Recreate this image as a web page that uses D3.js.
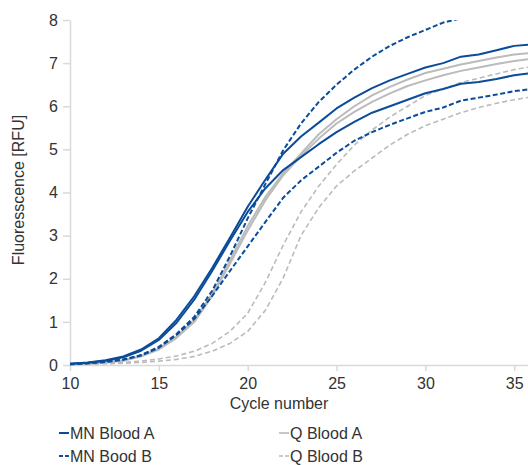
<!DOCTYPE html>
<html>
<head>
<meta charset="utf-8">
<script src="https://cdn.jsdelivr.net/npm/d3@7"></script>
<style>
  body { margin: 0; background: #fff; }
  svg { display: block; font-family: "Liberation Sans", Arial, sans-serif; }
  .axis path, .axis line { stroke: #d9d9d9; stroke-width: 1.5; }
  .axis text { fill: #333; font-size: 16px; }
</style>
</head>
<body>
<svg width="528" height="465"></svg>
<script>
// cycles 10..36
const cycles = [10, 11, 12, 13, 14, 15, 16, 17, 18, 19, 20, 21, 22, 23, 24, 25, 26, 27, 28, 29, 30, 31, 32, 33, 34, 35, 36];

const mnBloodA1 = [0.03, 0.06, 0.11, 0.2, 0.36, 0.62, 1.05, 1.6, 2.25, 2.95, 3.67, 4.3, 4.9, 5.3, 5.62, 5.95, 6.2, 6.42, 6.6, 6.75, 6.9, 7.0, 7.15, 7.2, 7.3, 7.4, 7.43];
const mnBloodA2 = [0.03, 0.05, 0.1, 0.18, 0.33, 0.58, 0.98, 1.52, 2.18, 2.88, 3.55, 4.1, 4.52, 4.82, 5.12, 5.4, 5.64, 5.85, 6.0, 6.15, 6.3, 6.4, 6.52, 6.56, 6.63, 6.72, 6.77];
const mnBoodB1 = [0.02, 0.04, 0.08, 0.13, 0.23, 0.42, 0.72, 1.12, 1.72, 2.52, 3.4, 4.2, 4.98, 5.6, 6.1, 6.5, 6.85, 7.15, 7.4, 7.6, 7.77, 7.94, 8.04, 8.15, 8.25, 8.32, 8.38];
const mnBoodB2 = [0.02, 0.04, 0.07, 0.12, 0.22, 0.4, 0.7, 1.07, 1.6, 2.18, 2.75, 3.32, 3.88, 4.28, 4.6, 4.92, 5.2, 5.4, 5.57, 5.72, 5.87, 5.97, 6.13, 6.2, 6.27, 6.35, 6.4];
const qBloodA1 = [0.02, 0.03, 0.06, 0.11, 0.21, 0.38, 0.66, 1.05, 1.65, 2.42, 3.22, 3.9, 4.45, 4.9, 5.35, 5.7, 6.0, 6.25, 6.45, 6.62, 6.77, 6.87, 6.97, 7.05, 7.13, 7.2, 7.24];
const qBloodA2 = [0.02, 0.03, 0.06, 0.1, 0.2, 0.36, 0.63, 1.0, 1.6, 2.35, 3.12, 3.82, 4.4, 4.85, 5.25, 5.6, 5.87, 6.1, 6.3, 6.47, 6.6, 6.72, 6.82, 6.9, 6.98, 7.05, 7.1];
const qBloodB1 = [0.02, 0.03, 0.04, 0.06, 0.09, 0.14, 0.21, 0.32, 0.5, 0.78, 1.2, 1.92, 2.78, 3.55, 4.15, 4.65, 5.1, 5.45, 5.75, 6.0, 6.25, 6.4, 6.55, 6.65, 6.75, 6.85, 6.92];
const qBloodB2 = [0.01, 0.02, 0.03, 0.04, 0.06, 0.09, 0.13, 0.2, 0.32, 0.5, 0.78, 1.27, 2.02, 3.0, 3.65, 4.15, 4.5, 4.8, 5.1, 5.35, 5.55, 5.7, 5.85, 5.97, 6.07, 6.15, 6.22];

const xTicks = [10, 15, 20, 25, 30, 35];
const yTicks = [0, 1, 2, 3, 4, 5, 6, 7, 8];

const blue = "#0b4c9a",
  gray = "#bbbbbb";

// drawing order: gray under blue
const series = [
  { values: qBloodB2, color: gray, dash: "5,3", width: 1.6 },
  { values: qBloodB1, color: gray, dash: "5,3", width: 1.6 },
  { values: qBloodA2, color: gray, dash: null, width: 2 },
  { values: qBloodA1, color: gray, dash: null, width: 2 },
  { values: mnBoodB2, color: blue, dash: "5,2.5", width: 2 },
  { values: mnBoodB1, color: blue, dash: "5,2.5", width: 2 },
  { values: mnBloodA2, color: blue, dash: null, width: 2 },
  { values: mnBloodA1, color: blue, dash: null, width: 2 },
];

const legend = [
  { label: "MN Blood A", color: blue, dash: null, col: 0, row: 0 },
  { label: "MN Bood B", color: blue, dash: "4,2", col: 0, row: 1 },
  { label: "Q Blood A", color: gray, dash: null, col: 1, row: 0 },
  { label: "Q Blood B", color: gray, dash: "4,2", col: 1, row: 1 },
];

const svg = d3.select("svg");

const x = d3.scaleLinear().domain([10, 36]).range([70, 532]);
const y = d3.scaleLinear().domain([0, 8]).range([365, 20]);

svg.append("defs")
  .append("clipPath")
  .attr("id", "plot")
  .append("rect")
  .attr("x", 70)
  .attr("y", y(8))
  .attr("width", 470)
  .attr("height", y(0) - y(8) + 2);

// axes
svg.append("g")
  .attr("class", "axis")
  .attr("transform", `translate(0,${y(0)})`)
  .call(d3.axisBottom(x).tickValues(xTicks).tickSize(6).tickPadding(4).tickSizeOuter(0))
  .selectAll("text")
  .attr("dy", "0.85em");

svg.append("g")
  .attr("class", "axis")
  .attr("transform", `translate(${x(10)},0)`)
  .call(d3.axisLeft(y).tickValues(yTicks).tickSize(7).tickPadding(5).tickSizeOuter(0));

// axis titles
svg.append("text")
  .attr("x", 279)
  .attr("y", 409)
  .attr("text-anchor", "middle")
  .style("font-size", "16px")
  .attr("fill", "#333")
  .text("Cycle number");

svg.append("text")
  .attr("transform", "rotate(-90)")
  .attr("x", -190)
  .attr("y", 24)
  .attr("text-anchor", "middle")
  .style("font-size", "16px")
  .attr("fill", "#333")
  .text("Fluoresscence [RFU]");

// curves
const line = d3.line()
  .x((d, i) => x(cycles[i]))
  .y((d) => y(d));

svg.append("g")
  .attr("clip-path", "url(#plot)")
  .selectAll("path")
  .data(series)
  .enter()
  .append("path")
  .attr("d", (d) => line(d.values))
  .attr("fill", "none")
  .attr("stroke", (d) => d.color)
  .attr("stroke-width", (d) => d.width)
  .attr("stroke-dasharray", (d) => d.dash)
  .attr("stroke-linejoin", "round");

// legend
const lg = svg.append("g")
  .selectAll("g")
  .data(legend)
  .enter()
  .append("g")
  .attr("transform", (d) => `translate(${d.col ? 279 : 59},${439 + d.row * 23})`);

lg.append("line")
  .attr("x1", 0)
  .attr("x2", 10)
  .attr("y1", -6)
  .attr("y2", -6)
  .attr("stroke", (d) => d.color)
  .attr("stroke-width", (d) => (d.color === blue ? 2 : 1.6))
  .attr("stroke-dasharray", (d) => d.dash);

lg.append("text")
  .attr("x", 11)
  .attr("y", 0)
  .style("font-size", "16px")
  .attr("fill", "#333")
  .text((d) => d.label);
</script>
</body>
</html>
